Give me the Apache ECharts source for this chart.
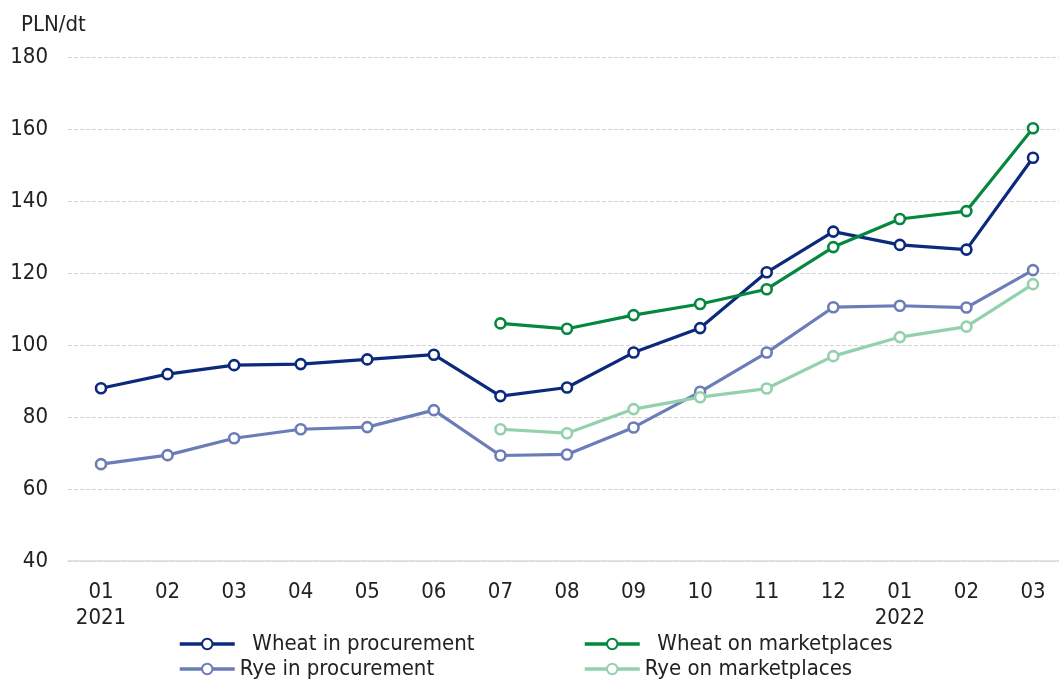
<!DOCTYPE html>
<html><head><meta charset="utf-8">
<script src="https://cdn.jsdelivr.net/npm/echarts@6/dist/echarts.min.js"></script>
<style>html,body{margin:0;padding:0;background:#fff}#c{width:1059px;height:679px}</style>
</head><body><div id="c"></div>
<script>
const categories = ['01\n2021','02','03','04','05','06','07','08','09','10','11','12','01\n2022','02','03'];
const wheatProcurement = [88.0,91.9,94.4,94.7,96.0,97.3,85.8,88.2,97.9,104.7,120.2,131.5,127.8,126.5,152.0];
const wheatMarket = [null,null,null,null,null,null,106.0,104.5,108.3,111.4,115.5,127.2,135.0,137.2,160.2];
const ryeProcurement = [66.9,69.4,74.1,76.6,77.2,81.9,69.3,69.6,77.1,87.0,97.9,110.5,110.9,110.4,120.8];
const ryeMarket = [null,null,null,null,null,null,76.6,75.5,82.2,85.5,87.9,96.9,102.2,105.1,116.9];
const yTicks = {min:40,max:180,interval:20};
const names = ['  Wheat in procurement','  Wheat on marketplaces','Rye in procurement','Rye on marketplaces'];
const colors = ['#0b2a7d','#05883e','#6b7db8','#93d1ad'];

const FONT = '"Liberation Sans Narrow","DejaVu Sans Condensed",sans-serif';
const chart = echarts.init(document.getElementById('c'));
function mk(name, data, color){
  return {name, type:'line', data, connectNulls:false, xAxisIndex:1, yAxisIndex:1,
    symbol:'circle', symbolSize:10, showSymbol:true,
    lineStyle:{width:3.2,color}, itemStyle:{color:'#fff',borderColor:color,borderWidth:2.6},
    emphasis:{disabled:true}, z:3};
}
const legendBase = {orient:'horizontal', itemWidth:55, itemHeight:13, padding:0,
  lineStyle:{width:3.5},
  textStyle:{fontFamily:FONT,fontSize:22,color:'#222'}, selectedMode:false};
chart.setOption({
  animation:false,
  color:colors,
  title:{text:'PLN/dt', left:16, top:9, textStyle:{fontFamily:FONT,fontSize:22,fontWeight:'normal',color:'#222'}},
  grid:[
    {left:68, right:0, top:57, bottom:118, containLabel:false},
    {left:101, right:26, top:57, bottom:118, containLabel:false}
  ],
  xAxis:[
    {type:'category', gridIndex:0, data:categories, boundaryGap:true,
      axisLine:{show:true,lineStyle:{color:'#d9d9d9',width:1.5}}, axisTick:{show:false},
      axisLabel:{show:false}, splitLine:{show:false}},
    {type:'category', gridIndex:1, data:categories, boundaryGap:false,
      axisLine:{show:false}, axisTick:{show:false}, splitLine:{show:false},
      axisLabel:{fontFamily:FONT,fontSize:22,color:'#222',lineHeight:26,margin:18,interval:0}}
  ],
  yAxis:[
    {type:'value', gridIndex:0, min:yTicks.min, max:yTicks.max, interval:yTicks.interval,
      axisLine:{show:false}, axisTick:{show:false},
      splitLine:{lineStyle:{color:'#d4d4d4',type:[4,2],width:1}},
      axisLabel:{fontFamily:FONT,fontSize:22,color:'#222',margin:20}},
    {type:'value', gridIndex:1, min:yTicks.min, max:yTicks.max, interval:yTicks.interval,
      axisLine:{show:false}, axisTick:{show:false}, splitLine:{show:false}, axisLabel:{show:false}}
  ],
  legend:[
    Object.assign({},legendBase,{data:[names[0]], left:178, top:633}),
    Object.assign({},legendBase,{data:[names[1]], left:583, top:633}),
    Object.assign({},legendBase,{data:[names[2]], left:178, top:658}),
    Object.assign({},legendBase,{data:[names[3]], left:583, top:658})
  ],
  series:[
    mk(names[0], wheatProcurement, colors[0]),
    mk(names[1], wheatMarket, colors[1]),
    mk(names[2], ryeProcurement, colors[2]),
    mk(names[3], ryeMarket, colors[3])
  ]
});
</script></body></html>
